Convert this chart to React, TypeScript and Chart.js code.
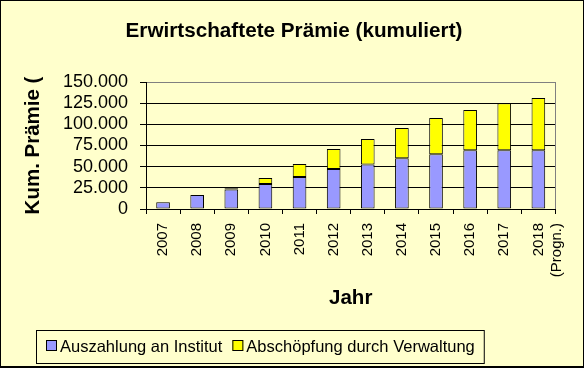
import React, { useEffect, useRef } from "react";
import { Chart, registerables } from "chart.js";

Chart.register(...registerables);

const years: (string | string[])[] = [
  "2007", "2008", "2009", "2010", "2011", "2012",
  "2013", "2014", "2015", "2016", "2017", ["2018", "(Progn.)"],
];
const auszahlung = [8000, 16500, 23000, 29500, 37800, 47200, 52700, 59800, 64600, 69300, 69300, 69300];
const abschoepfung = [0, 0, 1400, 7000, 15300, 23700, 30000, 35900, 42900, 47600, 55500, 61800];
const yStep = 25000;
const yMax = 150000;
const chartTitle = "Erwirtschaftete Prämie (kumuliert)";

const FONT = '"Liberation Sans", Arial, sans-serif';
const BG = "#FFFFCC";

const fmt = (v: number) => {
  const s = Math.round(v).toString();
  return s.replace(/\B(?=(\d{3})+(?!\d))/g, ".");
};

const framePlugin = {
  id: "frame",
  beforeDraw(chart: any) {
    const { ctx, width, height } = chart;
    ctx.save();
    ctx.fillStyle = BG;
    ctx.fillRect(0, 0, width, height);
    ctx.restore();
  },
  afterDraw(chart: any) {
    const { ctx, width, height, chartArea } = chart;
    ctx.save();
    ctx.strokeStyle = "#808080";
    ctx.lineWidth = 1;
    ctx.beginPath();
    ctx.moveTo(Math.round(chartArea.right) + 0.5, chartArea.top);
    ctx.lineTo(Math.round(chartArea.right) + 0.5, chartArea.bottom);
    ctx.stroke();
    ctx.strokeStyle = "#000";
    ctx.strokeRect(0.5, 0.5, width - 1, height - 1);
    ctx.beginPath();
    ctx.moveTo(0, height - 1.5);
    ctx.lineTo(width, height - 1.5);
    ctx.stroke();
    // title
    ctx.fillStyle = "#000";
    ctx.font = "bold 20.7px " + FONT;
    ctx.textAlign = "center";
    ctx.textBaseline = "middle";
    ctx.fillText(chartTitle, 294, 31);
    // legend
    ctx.font = "16.5px " + FONT;
    ctx.textBaseline = "middle";
    ctx.textAlign = "left";
    const items = chart.data.datasets.map((ds: any) => ({ label: ds.label, color: ds.backgroundColor }));
    const sq = 11, gap = 3, itemGap = 10, padL = 10, padR = 9;
    let w = padL + padR;
    items.forEach((it: any, i: number) => {
      w += sq + gap + ctx.measureText(it.label).width + (i < items.length - 1 ? itemGap : 0);
    });
    const left = 36, top = 330, h = 33;
    ctx.strokeRect(left + 0.5, top + 0.5, w, h);
    let x = left + padL;
    const cy = top + 16.5;
    items.forEach((it: any) => {
      ctx.fillStyle = it.color;
      ctx.fillRect(x, top + 10, sq, sq);
      ctx.strokeStyle = "#000";
      ctx.strokeRect(x + 0.5, top + 10.5, sq - 1, sq - 1);
      x += sq + gap;
      ctx.fillStyle = "#000";
      ctx.fillText(it.label, x, cy + 1);
      x += ctx.measureText(it.label).width + itemGap;
    });
    ctx.restore();
  },
};

export default function App() {
  const ref = useRef<HTMLCanvasElement>(null);
  useEffect(() => {
    document.body.style.margin = "0";
    const c = new Chart(ref.current!, {
      type: "bar",
      data: {
        labels: years as any,
        datasets: [
          {
            label: "Auszahlung an Institut",
            data: auszahlung,
            backgroundColor: "#9999FF",
            borderColor: "#000",
            borderWidth: 1,
            borderSkipped: false,
            categoryPercentage: 1,
            barPercentage: 0.4,
          },
          {
            label: "Abschöpfung durch Verwaltung",
            data: abschoepfung,
            backgroundColor: "#FFFF00",
            borderColor: "#000",
            borderWidth: 1,
            borderSkipped: false,
            categoryPercentage: 1,
            barPercentage: 0.4,
          },
        ],
      },
      plugins: [framePlugin],
      options: {
        responsive: false,
        animation: false,
        devicePixelRatio: 1,
        color: "#000",
        layout: { padding: { left: 0, right: 15, top: 82, bottom: 50 } },
        plugins: {
          legend: { display: false },
          tooltip: { enabled: false },
          title: { display: false },
        },
        scales: {
          x: {
            stacked: true,
            afterFit: (s: any) => { s.height = 109; },
            grid: {
              display: true,
              drawOnChartArea: false,
              drawTicks: true,
              tickLength: 5,
              color: "#000",
              offset: true,
            },
            border: { display: true, color: "#000", width: 1 },
            ticks: {
              autoSkip: false,
              minRotation: 90,
              maxRotation: 90,
              padding: 9,
              color: "#000",
              font: { family: FONT, size: 15 },
            },
            title: {
              display: true,
              text: "Jahr",
              color: "#000",
              font: { family: FONT, size: 20.5, weight: "bold" },
              padding: { top: 0, bottom: 7 },
            },
          },
          y: {
            stacked: true,
            min: 0,
            max: yMax,
            afterFit: (s: any) => { s.width = 146; },
            grid: {
              color: (ctx: any) => (ctx.tick && ctx.tick.value === yMax ? "#808080" : "#000"),
              tickColor: "#000",
              drawTicks: true,
              tickLength: 6,
            },
            border: { display: true, color: "#000", width: 1 },
            ticks: {
              stepSize: yStep,
              autoSkip: false,
              padding: 12,
              color: "#000",
              font: { family: FONT, size: 18 },
              callback: (v: any) => fmt(Number(v)),
            },
            title: {
              display: true,
              text: "Kum. Prämie (",
              color: "#000",
              font: { family: FONT, size: 20.5, weight: "bold" },
              padding: { top: 21, bottom: 0 },
            },
          },
        },
      } as any,
    });
    return () => c.destroy();
  }, []);
  return (
    <div style={{ position: "absolute", left: 0, top: 0, width: 584, height: 368 }}>
      <canvas ref={ref} width={584} height={368} style={{ display: "block" }} />
    </div>
  );
}
